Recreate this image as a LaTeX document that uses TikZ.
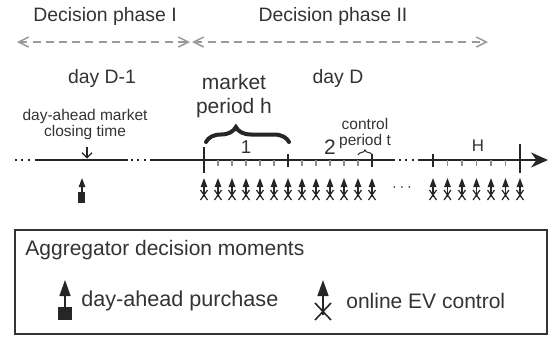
\documentclass[tikz,border=0pt]{standalone}
\usepackage{fontspec}
\setmainfont{Liberation Sans}
\usetikzlibrary{arrows.meta,decorations.pathreplacing}

\definecolor{txtgray}{HTML}{333333}
\definecolor{dashgray}{HTML}{9A9A9A}
\definecolor{tickgray}{HTML}{8C8C8C}
\definecolor{symblack}{HTML}{262626}

\tikzstyle{txt}=[inner sep=0pt, text=txtgray, font=\fontsize{9.7}{11.6}\selectfont]
\tikzstyle{bigtxt}=[inner sep=0pt, text=txtgray, align=center, font=\fontsize{10.5}{12}\selectfont]
\tikzstyle{smalltxt}=[inner sep=0pt, text=txtgray, align=center, font=\fontsize{7.75}{8}\selectfont]
\tikzstyle{phasearrow}=[draw=dashgray, line width=0.75pt, dash pattern=on 4pt off 2.6pt,
                        {Straight Barb[length=5pt,width=5pt]}-{Straight Barb[length=5pt,width=5pt]}]
\tikzstyle{timeline}=[draw=symblack, line width=0.75pt]
\tikzstyle{dots}=[draw=symblack, line width=0.75pt, dash pattern=on 1pt off 2.25pt]
\tikzstyle{bigtick}=[draw=symblack, line width=0.75pt]
\tikzstyle{smalltick}=[draw=tickgray, line width=0.6pt]
\tikzstyle{upshaft}=[draw=symblack, line width=0.6pt, -{Triangle[length=4.5pt,width=3.2pt]}]
\tikzstyle{bigshaft}=[draw=symblack, line width=0.8pt, -{Triangle[length=8pt,width=5.5pt]}]

\begin{document}
\begin{tikzpicture}[x=0.5pt, y=-0.5pt]
\useasboundingbox (0,0) rectangle (554,339);

%%%%%%%%%%%%%%%%%%
%%%%%%%%%%%%%%%%%%
\node (PhaseI) at (105,16) [txt] {Decision phase I};

\node (PhaseII) at (333,16) [txt] {Decision phase II};

\coordinate (PhaseI_start) at (17,42);
\coordinate (PhaseI_end) at (190,42);
\coordinate (PhaseII_start) at (192,42);
\coordinate (PhaseII_end) at (488,42);

\draw [phasearrow] (PhaseI_start) to (PhaseI_end);

\draw [phasearrow] (PhaseII_start) to (PhaseII_end);

%%%%%%%%%%%%%%%%%%
\node (DayBefore) at (102,78) [txt] {day D-1};

\node (Day) at (338,78) [txt] {day D};

\node (MarketPeriod) at (234,96) [bigtxt] {market\\period h};

\node (Closing) at (85,124) [smalltxt] {day-ahead market\\closing time};

\node (ControlPeriod) at (365,133) [smalltxt] {control\\period t};

%%%%%%%%%%%%%%%%%%
\node (One) at (246,147) [inner sep=0pt, text=txtgray, font=\fontsize{9.3}{10}\selectfont] {1};

\node (Two) at (330,147) [bigtxt] {2};

\node (Last) at (478,146) [inner sep=0pt, text=txtgray, font=\fontsize{8.4}{10}\selectfont] {H};

\draw [symblack, line width=2pt, line cap=round, decorate, decoration={brace, amplitude=7.5pt, aspect=0.36}]
      (206,142) -- (289,142);

\draw [symblack, line width=0.5pt, decorate, decoration={brace, amplitude=2.5pt}]
      (358,155) -- (372,155);

%%%%%%%%%%%%%%%%%%%
\draw [dots] (15,160) -- (33,160);
\draw [timeline] (35,160) -- (128,160);
\draw [dots] (131,160) -- (148,160);
\draw [timeline] (150,160) -- (395,160);
\draw [dots] (399,160) -- (416,160);
\draw [timeline, -{Stealth[length=8.5pt,width=7.5pt]}] (418,160) -- (548,160);

\coordinate (Closing_top) at (87,147);
\coordinate (Closing_line) at (87,158.5);
\draw [symblack, line width=0.6pt, -{Straight Barb[length=2.5pt,width=5pt]}] (Closing_top) to (Closing_line);

\foreach \k in {1,...,5,7,8,...,11} \draw [smalltick] ({204+14*\k},160) -- ({204+14*\k},166);
\foreach \k in {1,...,5} \draw [smalltick] ({433+14.5*\k},160) -- ({433+14.5*\k},166);

\draw [bigtick] (204,147) -- (204,173);
\draw [bigtick] (288,154) -- (288,167);
\draw [bigtick] (372,154) -- (372,167);
\draw [bigtick] (433,154) -- (433,167);
\draw [bigtick] (520,144) -- (520,173);

%%%%%%%%%%%%%%%%%%%
\draw [upshaft] (82,193) -- (82,178);
\fill [symblack] (78.5,192) rectangle (85.5,203);

\foreach \x in {204,218,...,372} {
  \draw [upshaft] (\x,197) -- (\x,178);
  \draw [symblack, line width=0.6pt] (\x-3.5,190) -- (\x+3.5,200) (\x-3.5,200) -- (\x+3.5,190);
}

\node (MoreControls) at (402,188) [smalltxt] {$\cdots$};

\foreach \k in {0,...,6} {
  \draw [upshaft] ({433+14.5*\k},197) -- ({433+14.5*\k},178);
  \draw [symblack, line width=0.6pt] ({433+14.5*\k-3.5},190) -- ({433+14.5*\k+3.5},200)
        ({433+14.5*\k-3.5},200) -- ({433+14.5*\k+3.5},190);
}

%%%%%%%%%%%%%%%%%%%%
%%%%%%%%%%%%%%%%%%%%
\draw [txtgray, line width=0.6pt] (15,230) rectangle (547,334);

\node (Legend) at (25,250) [bigtxt, anchor=west] {Aggregator decision moments};

\draw [bigshaft] (65,308) -- (65,280);
\fill [symblack] (58.5,307) rectangle (72,320);

\node (Purchase) at (81,301) [bigtxt, anchor=west, font=\fontsize{10.8}{12}\selectfont] {day-ahead purchase};

\draw [bigshaft] (323,315) -- (323,280);
\draw [symblack, line width=0.8pt] (315,303) -- (331,320) (315,320) -- (331,303);

\node (OnlineControl) at (346,301) [bigtxt, anchor=west] {online EV control};

\end{tikzpicture}
\end{document}
